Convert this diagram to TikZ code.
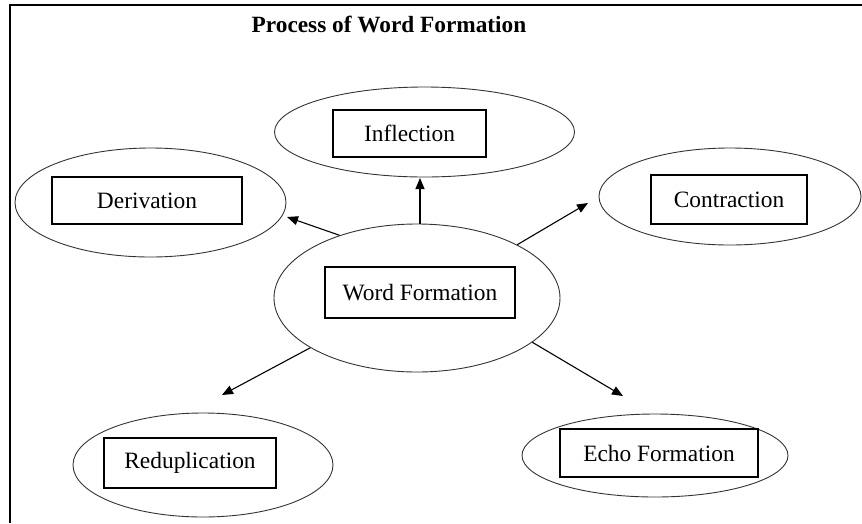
\documentclass[tikz,border=0pt]{standalone}
\usepackage{fontspec}
\setmainfont{Liberation Serif}
\usetikzlibrary{shapes.geometric,arrows.meta}
\begin{document}
\begin{tikzpicture}[x=1pt,y=-1pt,
  oval/.style={draw=black!80,line width=0.9pt,ellipse,inner sep=0pt},
  label box/.style={draw=black,line width=1.1pt,inner sep=0pt,font=\fontsize{23.4}{27}\selectfont},
  arr/.style={draw=black,line width=1.1pt,-{Triangle[length=11pt,width=9pt]}}]
\useasboundingbox (0,0) rectangle (862,523);
\draw[line width=1.5pt] (862,5) -- (10,5) -- (10,523);
\node[font=\bfseries\fontsize{23.3}{27}\selectfont] (title) at (389,24) {Process of Word Formation};
% ellipses
\node[oval,minimum width=300pt,minimum height=90pt] (infl) at (424.5,132) {};
\node[oval,minimum width=271pt,minimum height=109pt] (der) at (150.5,202.5) {};
\node[oval,minimum width=262pt,minimum height=97pt] (con) at (730,196.5) {};
\node[oval,minimum width=286pt,minimum height=148pt] (wf) at (417,298) {};
\node[oval,minimum width=266pt,minimum height=83pt] (echo) at (655,455.5) {};
\node[oval,minimum width=260pt,minimum height=104pt] (red) at (203,465) {};
% boxes
\node[label box,minimum width=153pt,minimum height=47pt] (inflb) at (409.5,133.5) {Inflection};
\node[label box,minimum width=190pt,minimum height=47pt] (derb) at (147,200.5) {Derivation};
\node[label box,minimum width=156pt,minimum height=49pt] (conb) at (729,199.5) {Contraction};
\node[label box,minimum width=190pt,minimum height=51pt] (wfb) at (420,292.5) {Word Formation};
\node[label box,minimum width=198pt,minimum height=48pt] (echob) at (659,453) {Echo Formation};
\node[label box,minimum width=172pt,minimum height=50pt] (redb) at (190,463) {Reduplication};
% arrow tips
\coordinate (tInfl) at (420,178);
\coordinate (tDer) at (287,217);
\coordinate (tCon) at (588,203);
\coordinate (tEcho) at (623,396);
\coordinate (tRed) at (222,395);
% arrows
\draw[arr] (wf.north -| tInfl) -- (tInfl);
\draw[arr] (wf.141) -- (tDer);
\draw[arr] (wf.28.5) -- (tCon);
\draw[arr] (wf.-21.9) -- (tEcho);
\draw[arr] (wf.205.5) -- (tRed);
\end{tikzpicture}
\end{document}
